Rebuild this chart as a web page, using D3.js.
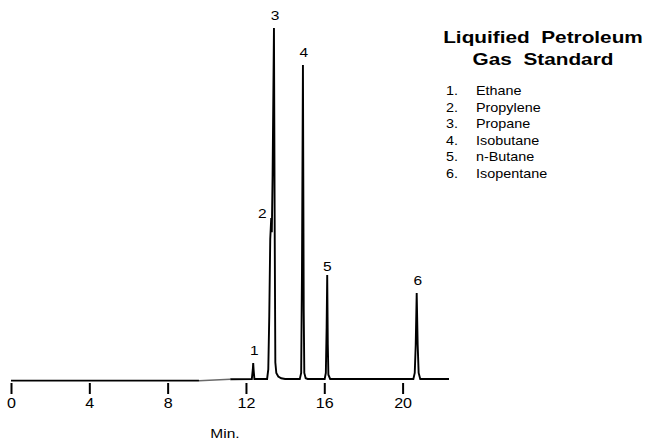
<!DOCTYPE html>
<html>
<head>
<meta charset="utf-8">
<script src="https://cdn.jsdelivr.net/npm/d3@7"></script>
<style>
  body { margin: 0; background: #fff; }
  text { font-family: "Liberation Sans", Arial, sans-serif; fill: #000; }
</style>
</head>
<body>
<svg id="chart" width="652" height="443"></svg>
<script>
// chromatogram trace, [minutes, signal % of full scale]
var leftBase = [[0, -0.2], [9.6, -0.2]];
var driftBase = [[9.6, -0.2], [11.2, 0.2]];
var trace = [
  [11.2, 0.2], [12.30, 0.3], [12.35, 3], [12.37, 4.8], [12.39, 3], [12.43, 0.3],
  [13.08, 0.3], [13.14, 3], [13.19, 18], [13.24, 40], [13.29, 46], [13.32, 42],
  [13.36, 58], [13.43, 100], [13.47, 40], [13.50, 5], [13.55, 2], [13.65, 1],
  [13.8, 0.5], [14.0, 0.3],
  [14.75, 0.3], [14.82, 2], [14.86, 30], [14.91, 89.5], [14.95, 20], [14.98, 2],
  [15.05, 0.5], [15.15, 0.3],
  [16.02, 0.3], [16.08, 2], [16.12, 15], [16.15, 29.8], [16.18, 10], [16.21, 1.5], [16.3, 0.3],
  [20.55, 0.3], [20.62, 2], [20.67, 10], [20.72, 24.7], [20.77, 10], [20.82, 2], [20.9, 0.3],
  [22.37, 0.3]
];

// peak labels
var peakNums = ["1", "2", "3", "4", "5", "6"];
var peakTimes = [12.37, 13.29, 13.43, 14.91, 16.15, 20.72];
var peakHeights = [4.8, 46, 100, 89.5, 29.8, 24.7];
var compounds = ["Ethane", "Propylene", "Propane", "Isobutane", "n-Butane", "Isopentane"];

var xTicks = [0, 4, 8, 12, 16, 20];
var titleLines = ["Liquified  Petroleum", "Gas  Standard"];
var xTitle = "Min.";

var svg = d3.select("#chart");

var x = d3.scaleLinear().domain([0, 20]).range([11, 402.6]);
var y = d3.scaleLinear().domain([0, 100]).range([380, 28]);

var line = d3.line()
  .x(function (d) { return x(d[0]); })
  .y(function (d) { return y(d[1]); });

// the trace
svg.append("path").datum(leftBase)
  .attr("d", line).attr("fill", "none")
  .attr("stroke", "#000").attr("stroke-width", 1.8);

svg.append("path").datum(driftBase)
  .attr("d", line).attr("fill", "none")
  .attr("stroke", "#6a6a6a").attr("stroke-width", 1.6);

svg.append("path").datum(trace)
  .attr("d", line).attr("fill", "none")
  .attr("stroke", "#000").attr("stroke-width", 1.9)
  .attr("stroke-linejoin", "miter");

// x axis, ticks hanging under the baseline
var xAxis = d3.axisBottom(x).tickValues(xTicks).tickSize(11).tickPadding(4);
var ax = svg.append("g").attr("transform", "translate(0,383)").call(xAxis);
ax.select(".domain").remove();
ax.selectAll(".tick line").attr("stroke", "#000").attr("stroke-width", 2);
ax.selectAll(".tick text")
  .attr("font-size", "14px")
  .attr("font-family", "Liberation Sans, Arial, sans-serif")
  .attr("fill", "#000")
  .attr("transform", "scale(1.15,1)");

svg.append("text")
  .attr("transform", "translate(225,438.3) scale(1.15,1)")
  .attr("text-anchor", "middle")
  .attr("font-size", "13.5px")
  .text(xTitle);

// peak numbers
var nudge = { "2": [-9, 0], "5": [0, -4] };
svg.selectAll(".plabel")
  .data(peakNums)
  .enter().append("text")
  .attr("class", "plabel")
  .attr("text-anchor", "middle")
  .attr("font-size", "13.5px")
  .attr("transform", function (d, i) {
    var n = nudge[d] || [1, -8];
    var px = x(peakTimes[i]) + n[0];
    var py = y(peakHeights[i]) + n[1];
    return "translate(" + px + "," + py + ") scale(1.15,1)";
  })
  .text(function (d) { return d; });

// title
svg.selectAll(".title")
  .data(titleLines)
  .enter().append("text")
  .attr("class", "title")
  .attr("text-anchor", "middle")
  .attr("font-size", "16.5px")
  .attr("font-weight", "bold")
  .style("white-space", "pre")
  .attr("xml:space", "preserve")
  .attr("transform", function (d, i) { return "translate(543," + (43.3 + i * 21.7) + ") scale(1.26,1)"; })
  .text(function (d) { return d; });

// compound list
var leg = svg.append("g");
compounds.forEach(function (c, i) {
  var by = 95 + i * 16.55;
  leg.append("text")
    .attr("transform", "translate(446," + by + ") scale(1.15,1)")
    .attr("font-size", "12.5px")
    .text(peakNums[i] + ".");
  leg.append("text")
    .attr("transform", "translate(476," + by + ") scale(1.15,1)")
    .attr("font-size", "12.5px")
    .text(c);
});
</script>
</body>
</html>
